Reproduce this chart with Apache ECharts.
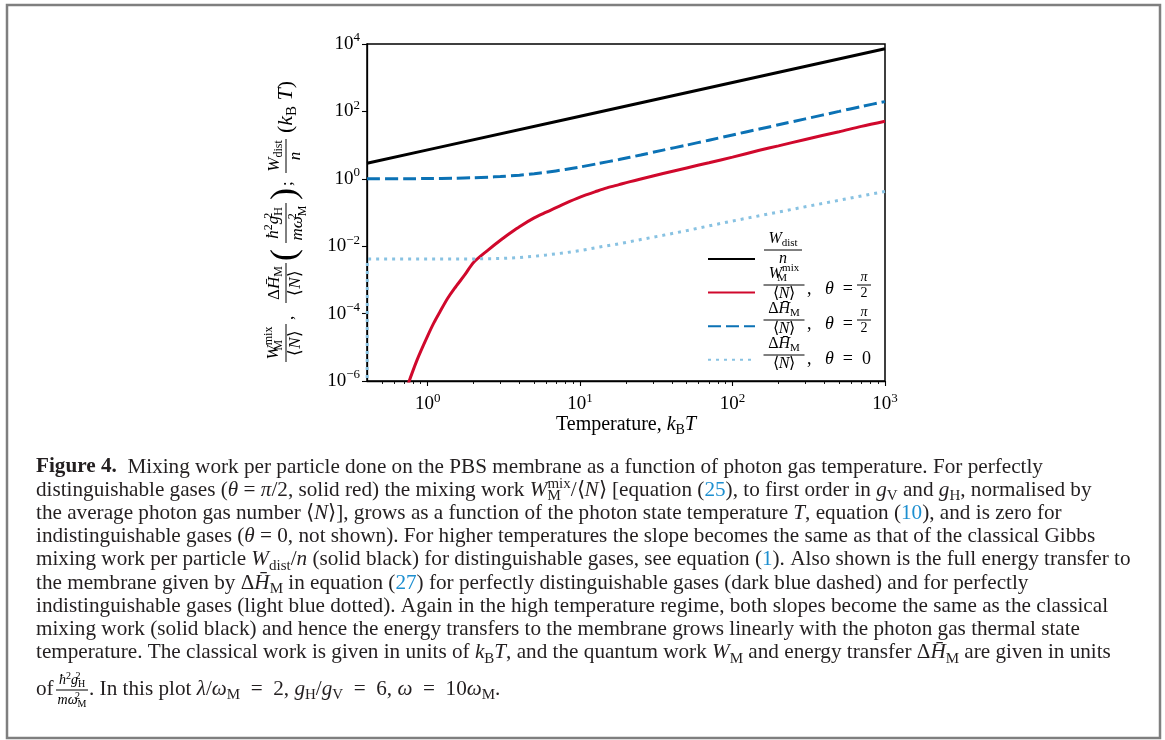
<!DOCTYPE html>
<html>
<head>
<meta charset="utf-8">
<script src="https://cdn.jsdelivr.net/npm/echarts@6/dist/echarts.min.js"></script>
<style>html,body{margin:0;padding:0;background:#fff}#c{width:1165px;height:740px}</style>
</head>
<body>
<div id="c"></div>
<script>
// ---------------- data ----------------
const blackT = [0.4, 1, 10, 100, 1000];
const blackY = [2.9, 7.2, 72, 720, 7200];

const redT = [0.5, 0.6, 0.65, 0.7, 0.75, 0.8, 0.85, 0.9, 1.0, 1.1, 1.2, 1.35, 1.5, 1.75, 2.0, 2.5, 3, 3.5, 4, 5, 6, 8, 10, 13, 15, 18, 21, 25, 35, 50, 70, 100, 150, 200, 300, 500, 700, 1000];
const redY = [1.4e-9, 3.5e-8, 1.2e-7, 3.5e-7, 8.9e-7, 2.0e-6, 4.1e-6, 7.6e-6, 2.2e-5, 5.4e-5, 1.1e-4, 2.8e-4, 5.6e-4, 1.4e-3, 3.3e-3, 7.8e-3, 0.015, 0.025, 0.038, 0.069, 0.102, 0.186, 0.285, 0.434, 0.537, 0.671, 0.81, 0.986, 1.43, 2.10, 3.0, 4.4, 7.0, 9.5, 14.7, 25, 36, 51];

const dashT = [0.4, 0.7, 1, 1.5, 2, 2.5, 3, 4, 5, 6, 8, 10, 13, 18, 25, 35, 50, 70, 100, 150, 200, 300, 500, 700, 1000];
const dashY = [1.0, 1.0, 1.02, 1.04, 1.08, 1.12, 1.17, 1.28, 1.41, 1.56, 1.89, 2.24, 2.8, 3.74, 5.1, 7.1, 10.0, 14.0, 20, 30, 40, 60, 100, 140, 195];

const dotT = [0.4, 0.402, 1, 2, 3, 4, 5, 6, 8, 10, 13, 18, 25, 35, 50, 70, 100, 150, 200, 300, 500, 700, 1000];
const dotY = [1e-9, 0.0042, 0.0042, 0.0042, 0.0043, 0.0046, 0.0050, 0.0055, 0.0064, 0.0074, 0.0092, 0.0118, 0.0158, 0.021, 0.029, 0.040, 0.056, 0.080, 0.103, 0.148, 0.23, 0.31, 0.42];

const seriesNames = ['W_dist/n', 'W_M^mix/<N>, theta=pi/2', 'dH_M/<N>, theta=pi/2', 'dH_M/<N>, theta=0'];
const xMajor = [1, 10, 100, 1000];
const xMinor = [0.5, 0.6, 0.7, 0.8, 0.9, 2, 3, 4, 5, 6, 7, 8, 9, 20, 30, 40, 50, 60, 70, 80, 90, 200, 300, 400, 500, 600, 700, 800, 900];
const yMajor = [1e-6, 1e-4, 1e-2, 1, 1e2, 1e4];

const captionLines = [
  '{b|Figure 4.}{n|  Mixing work per particle done on the PBS membrane as a function of photon gas temperature. For perfectly}',
  '{n|distinguishable gases (}{i|θ}{n| = }{i|π}{n|/2, solid red) the mixing work }{i|W}{zs|M}{p|mix}{n|/⟨}{i|N}{n|⟩ [equation (}{l|25}{n|), to first order in }{i|g}{s|V}{n| and }{i|g}{s|H}{n|, normalised by}',
  '{n|the average photon gas number ⟨}{i|N}{n|⟩], grows as a function of the photon state temperature }{i|T}{n|, equation (}{l|10}{n|), and is zero for}',
  '{n|indistinguishable gases (}{i|θ}{n| = 0, not shown). For higher temperatures the slope becomes the same as that of the classical Gibbs}',
  '{n|mixing work per particle }{i|W}{s|dist}{n|/}{i|n}{n| (solid black) for distinguishable gases, see equation (}{l|1}{n|). Also shown is the full energy transfer to}',
  '{n|the membrane given by Δ}{i|H̄}{s|M}{n| in equation (}{l|27}{n|) for perfectly distinguishable gases (dark blue dashed) and for perfectly}',
  '{n|indistinguishable gases (light blue dotted). Again in the high temperature regime, both slopes become the same as the classical}',
  '{n|mixing work (solid black) and hence the energy transfers to the membrane grows linearly with the photon gas thermal state}',
  '{n|temperature. The classical work is given in units of }{i|k}{s|B}{i|T}{n|, and the quantum work }{i|W}{s|M}{n| and energy transfer Δ}{i|H̄}{s|M}{n| are given in units}'
];
const captionLast = '{n|. In this plot }{i|λ}{n|/}{i|ω}{s|M}{n|\u2002=\u20022, }{i|g}{s|H}{n|/}{i|g}{s|V}{n|\u2002=\u20026, }{i|ω}{n|\u2002=\u200210}{i|ω}{s|M}{n|.}';

// ---------------- styling helpers ----------------
const SERIF = "'Liberation Serif'";
const INK = '#231f20';
const LINK = '#1d8fd0';

function R(S, color) {
  color = color || '#000';
  const f = o => Object.assign({fontFamily: SERIF, fontSize: S, fontStyle: 'normal', fontWeight: 'normal', fill: color, color: color}, o);
  const s2 = Math.round(S * 0.7);
  return {
    n: f({}),
    i: f({fontStyle: 'italic'}),
    b: f({fontWeight: 'bold'}),
    l: f({fill: LINK, color: LINK}),
    s: f({fontSize: s2, padding: [Math.round(S * 0.55), 0, 0, 0]}),
    p: f({fontSize: s2, padding: [0, 0, Math.round(S * 0.6), 0]}),
    zs: f({fontSize: s2, padding: [Math.round(S * 0.55), 0, 0, 0], width: 0.01}),
    zp: f({fontSize: s2, padding: [0, 0, Math.round(S * 0.6), 0], width: 0.01})
  };
}
function T(x, y, text, S, align, va, color) {
  return {type: 'text', x: x, y: y, silent: true,
    style: {text: text, rich: R(S, color), fontFamily: SERIF, fontSize: S, fill: color || '#000',
      align: align || 'left', verticalAlign: va || 'middle'}};
}
function F(cx, by, num, den, w, S, gn, gd) {
  return [
    T(cx, by - (gn == null ? 1 : gn), num, S, 'center', 'bottom'),
    {type: 'line', silent: true, shape: {x1: cx - w / 2, y1: by, x2: cx + w / 2, y2: by}, style: {stroke: '#000', lineWidth: 1}},
    T(cx, by + (gd == null ? 1 : gd), den, S, 'center', 'top')
  ];
}
function powLabel(v) {
  const lg = Math.log10(v);
  const e = Math.round(lg);
  if (Math.abs(lg - e) > 1e-6) return '';
  return '{b|10}{e|' + (e < 0 ? '\u2212' + (-e) : e) + '}';
}
const tickRich = {
  b: {fontFamily: SERIF, fontSize: 19, color: '#000'},
  e: {fontFamily: SERIF, fontSize: 13, color: '#000', padding: [0, 0, 12, 0]}
};
function pts(xs, ys) { return xs.map((x, i) => [x, ys[i]]); }

// ---------------- graphic: y title, legend labels, caption, frame ----------------
const NUM_MIX = '{i|W}{zs|M}{p|mix}';
const NUM_DH = '{n|Δ}{i|H̄}{s|M}';
const DEN_N = '{n|⟨}{i|N}{n|⟩}';

const yTitle = {
  type: 'group', x: 286, y: 363, rotation: Math.PI / 2,
  children: [].concat(
    F(20, 0, NUM_MIX, DEN_N, 38, 17),
    [T(43, 3, '{n|,}', 17)],
    F(80, 0, NUM_DH, DEN_N, 40, 17),
    [T(102, 0, '{n|(}', 36)],
    F(140, 0, '{i|ħ}{p|2}{i|g}{zp|2}{s|H}', '{i|mω}{zp|2}{s|M}', 40, 17),
    [T(163, 0, '{n|)}', 36)],
    [T(177, 2, '{n|;}', 17)],
    F(207, 0, '{i|W}{s|dist}', '{i|n}', 34, 17),
    [T(230, 0, '{n|(}{i|k}{s|B}{i| T}{n|)}', 22)]
  )
};

const legendY = [254, 289, 324, 359];
const legendLabels = [].concat(
  F(783, legendY[0] - 4, '{i|W}{s|dist}', '{i|n}', 38, 16),
  F(784, legendY[1] - 4, NUM_MIX, DEN_N, 41, 16),
  [T(807, legendY[1], '{n|,   }{i|θ}{n|  =}', 18)],
  F(864, legendY[1] - 4, '{i|π}', '{n|2}', 14, 14),
  F(784, legendY[2] - 4, NUM_DH, DEN_N, 41, 16),
  [T(807, legendY[2], '{n|,   }{i|θ}{n|  =}', 18)],
  F(864, legendY[2] - 4, '{i|π}', '{n|2}', 14, 14),
  F(784, legendY[3] - 4, NUM_DH, DEN_N, 41, 16),
  [T(807, legendY[3], '{n|,   }{i|θ}{n|  =  0}', 18)]
);

const CAP = 21.2;
const caption = captionLines.map((s, k) => T(36, 467 + 23.2 * k, s, CAP, 'left', 'middle', INK));
const capLast = [].concat(
  [T(36, 689, '{n|of}', CAP, 'left', 'middle', INK)],
  F(72, 690, '{i|ħ}{p|2}{i|g}{zp|2}{s|H}', '{i|mω}{zp|2}{s|M}', 32, 14),
  [T(89, 689, captionLast, CAP, 'left', 'middle', INK)]
);

const frame = {type: 'rect', silent: true, shape: {x: 7, y: 5, width: 1153, height: 733},
  style: {fill: 'none', stroke: '#7f7f7f', lineWidth: 2.5}};

// ---------------- chart ----------------
const chart = echarts.init(document.getElementById('c'), null, {renderer: 'canvas'});
const axisCommon = {
  axisLine: {show: true, lineStyle: {color: '#000', width: 1.3}},
  splitLine: {show: false},
  minorTick: {show: false},
  minorSplitLine: {show: false}
};
const option = {
  animation: false,
  backgroundColor: '#fff',
  grid: {left: 367, top: 44, width: 518, height: 337, show: true, borderColor: '#000', borderWidth: 1.5, backgroundColor: 'transparent', containLabel: false},
  xAxis: [
    Object.assign({}, axisCommon, {
      type: 'log', logBase: 10, min: 0.4, max: 1000, position: 'bottom',
      axisTick: {show: true, length: 5, lineStyle: {color: '#000', width: 1.1}, customValues: xMajor},
      axisLabel: {show: true, customValues: xMajor, margin: 11, formatter: powLabel, rich: tickRich, color: '#000'},
      name: '{n|Temperature, }{i|k}{s|B}{i|T}', nameLocation: 'middle', nameGap: 31,
      nameTextStyle: {fontFamily: SERIF, fontSize: 20, color: '#000', rich: R(20)}
    }),
    Object.assign({}, axisCommon, {
      type: 'log', logBase: 10, min: 0.4, max: 1000, position: 'bottom',
      axisLine: {show: false},
      axisTick: {show: true, length: 3, lineStyle: {color: '#000', width: 0.9}, customValues: xMinor},
      axisLabel: {show: false}
    })
  ],
  yAxis: Object.assign({}, axisCommon, {
    type: 'log', logBase: 10, min: 1e-6, max: 1e4,
    axisTick: {show: true, length: 5, lineStyle: {color: '#000', width: 1.1}, customValues: yMajor},
    axisLabel: {show: true, customValues: yMajor, margin: 7, formatter: powLabel, rich: tickRich, color: '#000'}
  }),
  legend: {
    orient: 'vertical', left: 702, top: 247, itemWidth: 47, itemHeight: 14, itemGap: 21,
    data: seriesNames, formatter: () => '', textStyle: {fontSize: 8}, selectedMode: false,
    itemStyle: {opacity: 0}
  },
  series: [
    {name: seriesNames[0], type: 'line', data: pts(blackT, blackY), symbol: 'none', showSymbol: false, silent: true,
      lineStyle: {color: '#000000', width: 3}, itemStyle: {color: '#000000'}},
    {name: seriesNames[1], type: 'line', data: pts(redT, redY), symbol: 'none', showSymbol: false, silent: true, smooth: 0.3,
      lineStyle: {color: '#d0082c', width: 3}, itemStyle: {color: '#d0082c'}},
    {name: seriesNames[2], type: 'line', data: pts(dashT, dashY), symbol: 'none', showSymbol: false, silent: true, smooth: 0.2,
      lineStyle: {color: '#0b72b5', width: 3, type: [13, 5], cap: 'butt'}, itemStyle: {color: '#0b72b5'}},
    {name: seriesNames[3], type: 'line', data: pts(dotT, dotY), symbol: 'none', showSymbol: false, silent: true,
      lineStyle: {color: '#88c2e2', width: 3, type: [3, 5], cap: 'butt'}, itemStyle: {color: '#88c2e2'}}
  ],
  graphic: [].concat([frame, yTitle], legendLabels, caption, capLast)
};
chart.setOption(option);
</script>
</body>
</html>
